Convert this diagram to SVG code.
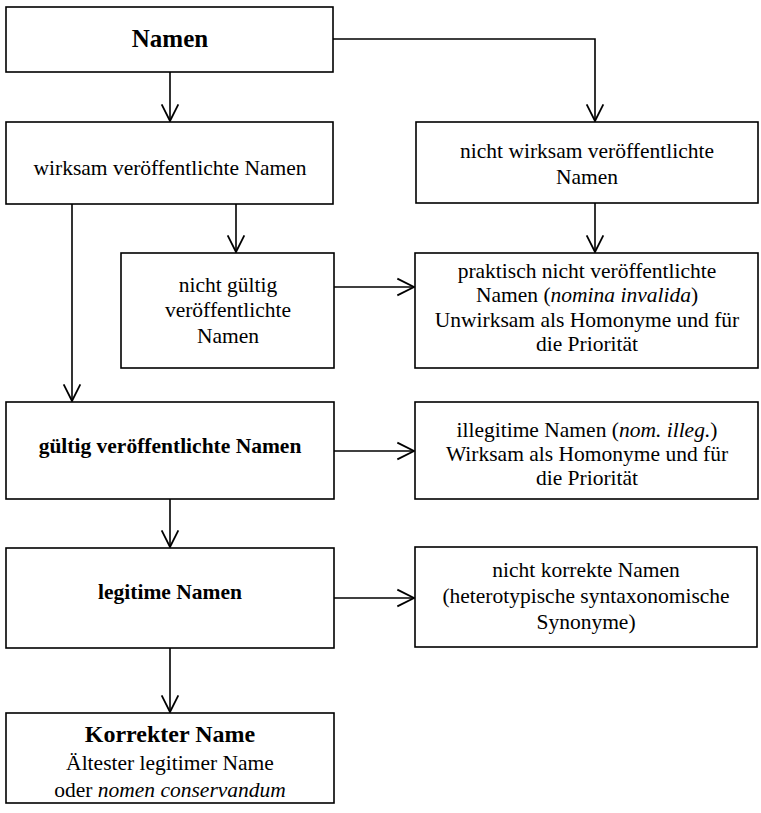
<svg xmlns="http://www.w3.org/2000/svg" width="761" height="813" viewBox="0 0 761 813">
<defs>
<style>
.box{fill:#fff;stroke:#000;stroke-width:1.6}
.t{font-family:"Liberation Serif","Times New Roman",serif;font-size:21.5px;fill:#000;text-anchor:middle}
.b{font-weight:bold}
.c{fill:none;stroke:#000;stroke-width:1.6}
</style>
<marker id="ah" markerUnits="userSpaceOnUse" markerWidth="20" markerHeight="20" viewBox="-16 -9 18 18" refX="0" refY="0" orient="auto">
<path d="M-15,-7.5 L0,0 L-15,7.5" fill="none" stroke="#000" stroke-width="1.6"/>
</marker>
</defs>
<rect width="761" height="813" fill="#fff"/>
<g id="connectors">
<path class="c" d="M170,72 V121" marker-end="url(#ah)"/>
<path class="c" d="M333,39 H595 V121" marker-end="url(#ah)"/>
<path class="c" d="M72,204 V401" marker-end="url(#ah)"/>
<path class="c" d="M236,204 V252" marker-end="url(#ah)"/>
<path class="c" d="M595,203 V252" marker-end="url(#ah)"/>
<path class="c" d="M334,287 H414" marker-end="url(#ah)"/>
<path class="c" d="M334,451 H414" marker-end="url(#ah)"/>
<path class="c" d="M170,499 V547" marker-end="url(#ah)"/>
<path class="c" d="M334,598 H414" marker-end="url(#ah)"/>
<path class="c" d="M170,648 V712" marker-end="url(#ah)"/>
</g>
<g id="namen">
<rect class="box" x="6" y="7" width="327" height="65"/>
<text class="t b" x="170" y="47" style="font-size:25px">Namen</text>
</g>
<g id="wirksam">
<rect class="box" x="6" y="122" width="327" height="82"/>
<text class="t" x="170" y="175">wirksam veröffentlichte Namen</text>
</g>
<g id="nicht-wirksam">
<rect class="box" x="416" y="122" width="342" height="81"/>
<text class="t" x="587" y="158">nicht wirksam veröffentlichte</text>
<text class="t" x="587" y="184">Namen</text>
</g>
<g id="nicht-gueltig">
<rect class="box" x="121" y="253" width="213" height="115"/>
<text class="t" x="228" y="292">nicht gültig</text>
<text class="t" x="228" y="317">veröffentlichte</text>
<text class="t" x="228" y="343">Namen</text>
</g>
<g id="praktisch">
<rect class="box" x="415" y="253" width="343" height="115"/>
<text class="t" x="587" y="278">praktisch nicht veröffentlichte</text>
<text class="t" x="587" y="302">Namen (<tspan font-style="italic">nomina invalida</tspan>)</text>
<text class="t" x="587" y="327">Unwirksam als Homonyme und für</text>
<text class="t" x="587" y="351">die Priorität</text>
</g>
<g id="gueltig">
<rect class="box" x="6" y="402" width="328" height="97"/>
<text class="t b" x="170" y="453">gültig veröffentlichte Namen</text>
</g>
<g id="illegitim">
<rect class="box" x="415" y="402" width="343" height="97"/>
<text class="t" x="587" y="437">illegitime Namen (<tspan font-style="italic">nom. illeg.</tspan>)</text>
<text class="t" x="587" y="461">Wirksam als Homonyme und für</text>
<text class="t" x="587" y="485">die Priorität</text>
</g>
<g id="legitim">
<rect class="box" x="6" y="548" width="328" height="100"/>
<text class="t b" x="170" y="599">legitime Namen</text>
</g>
<g id="nicht-korrekt">
<rect class="box" x="415" y="547" width="342" height="100"/>
<text class="t" x="586" y="577">nicht korrekte Namen</text>
<text class="t" x="586" y="603">(heterotypische syntaxonomische</text>
<text class="t" x="586" y="629">Synonyme)</text>
</g>
<g id="korrekt">
<rect class="box" x="6" y="713" width="328" height="90"/>
<text class="t b" x="170" y="742" style="font-size:24px">Korrekter Name</text>
<text class="t" x="170" y="770">Ältester legitimer Name</text>
<text class="t" x="170" y="797">oder <tspan font-style="italic">nomen conservandum</tspan></text>
</g>
</svg>
